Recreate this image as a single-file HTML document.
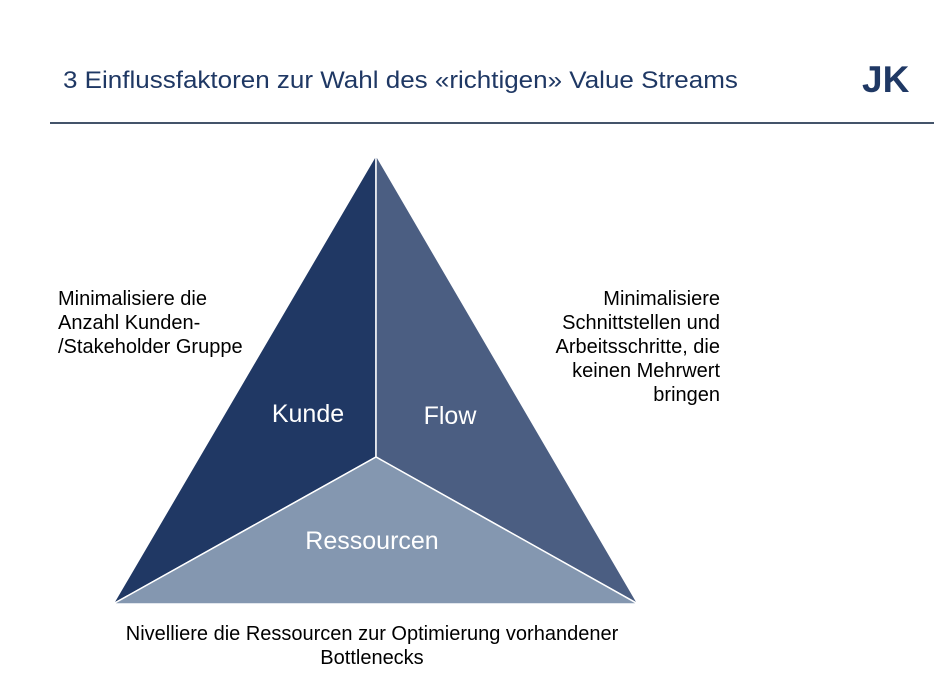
<!DOCTYPE html>
<html><head><style>
body{margin:0;width:934px;height:699px;background:#fff;position:relative;overflow:hidden;font-family:"Liberation Sans",sans-serif}
.t{position:absolute;white-space:nowrap;color:#000;font-size:20px;line-height:24px}
</style></head><body>
<div class="t" style="left:63px;top:65px;font-size:26px;line-height:32px;color:#1f3864;transform:scaleY(0.92);transform-origin:top left">3 Einflussfaktoren zur Wahl des «richtigen» Value Streams</div>
<div class="t" style="left:862px;top:58px;font-size:37px;line-height:44px;font-weight:bold;color:#1f3864">JK</div>
<div style="position:absolute;left:50px;top:122px;width:884px;height:2px;background:#44546a"></div>
<svg width="934" height="699" style="position:absolute;left:0;top:0">
<polygon points="376,155 113,604 376,457" fill="#203864" stroke="#fff" stroke-width="1.5"/>
<polygon points="376,155 638,604 376,457" fill="#4b5e82" stroke="#fff" stroke-width="1.5"/>
<polygon points="113,604 638,604 376,457" fill="#8497b0" stroke="#fff" stroke-width="1.5"/>
<text x="308" y="422" fill="#fff" font-size="25" text-anchor="middle" font-family="Liberation Sans">Kunde</text>
<text x="450" y="424" fill="#fff" font-size="25" text-anchor="middle" font-family="Liberation Sans">Flow</text>
<text x="372" y="549" fill="#fff" font-size="25" text-anchor="middle" font-family="Liberation Sans">Ressourcen</text>
</svg>
<div class="t" style="left:58px;top:287px">Minimalisiere die<br>Anzahl Kunden-<br>/Stakeholder Gruppe</div>
<div class="t" style="right:214px;top:287px;text-align:right">Minimalisiere<br>Schnittstellen und<br>Arbeitsschritte, die<br>keinen Mehrwert<br>bringen</div>
<div class="t" style="left:72px;width:600px;top:622px;text-align:center">Nivelliere die Ressourcen zur Optimierung vorhandener<br>Bottlenecks</div>
</body></html>
